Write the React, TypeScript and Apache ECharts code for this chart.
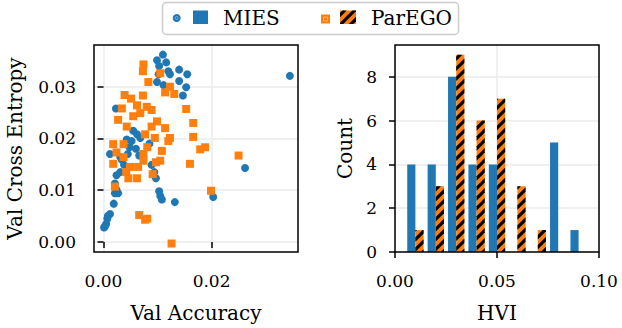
import React, { useEffect, useRef } from 'react';
import * as echarts from 'echarts';

// ---- data ----
const miesPoints: number[][] = [
  [0.0110, 0.0362], [0.0099, 0.0351], [0.0116, 0.0347], [0.0103, 0.0340], [0.0120, 0.0330],
  [0.0123, 0.0324], [0.0140, 0.0333], [0.0155, 0.0324], [0.0102, 0.0324], [0.0099, 0.0309],
  [0.0111, 0.0303], [0.0140, 0.0311], [0.0153, 0.0299], [0.0147, 0.0283], [0.0023, 0.0258],
  [0.0055, 0.0215], [0.0062, 0.0208], [0.0068, 0.0201], [0.0052, 0.0195], [0.0043, 0.0198],
  [0.0048, 0.0183], [0.0085, 0.0190], [0.0012, 0.0170], [0.0031, 0.0164], [0.0066, 0.0167],
  [0.0089, 0.0149], [0.0034, 0.0159], [0.0031, 0.0135], [0.0024, 0.0129], [0.0094, 0.0135],
  [0.0097, 0.0123], [0.0021, 0.0113], [0.0024, 0.0101], [0.0027, 0.0094], [0.0021, 0.0094],
  [0.0103, 0.0098], [0.0105, 0.0089], [0.0108, 0.0082], [0.0132, 0.0077], [0.0203, 0.0087],
  [0.0019, 0.0074], [0.0012, 0.0054], [0.0007, 0.0045], [0.0005, 0.0035], [0.0001, 0.0028],
  [0.0345, 0.0321], [0.0262, 0.0143], [0.0038, 0.0149], [0.0045, 0.0170], [0.0060, 0.0180],
  [0.0008, 0.0050], [0.0003, 0.0031],
];
const paregoPoints: number[][] = [
  [0.0074, 0.0343], [0.0073, 0.0330], [0.0105, 0.0326], [0.0083, 0.0309], [0.0123, 0.0300],
  [0.0114, 0.0289], [0.0131, 0.0286], [0.0039, 0.0284], [0.0073, 0.0283], [0.0062, 0.0264],
  [0.0080, 0.0261], [0.0068, 0.0249], [0.0089, 0.0255], [0.0034, 0.0258], [0.0153, 0.0257],
  [0.0027, 0.0236], [0.0043, 0.0223], [0.0099, 0.0233], [0.0089, 0.0223], [0.0114, 0.0220],
  [0.0166, 0.0230], [0.0077, 0.0208], [0.0123, 0.0201], [0.0166, 0.0203], [0.0018, 0.0189],
  [0.0037, 0.0189], [0.0108, 0.0176], [0.0120, 0.0195], [0.0179, 0.0179], [0.0188, 0.0183],
  [0.0074, 0.0170], [0.0024, 0.0173], [0.0160, 0.0151], [0.0105, 0.0157], [0.0250, 0.0167],
  [0.0037, 0.0164], [0.0018, 0.0151], [0.0049, 0.0145], [0.0064, 0.0145], [0.0062, 0.0123],
  [0.0046, 0.0123], [0.0074, 0.0157], [0.0097, 0.0154], [0.0091, 0.0131], [0.0021, 0.0107],
  [0.0199, 0.0099], [0.0066, 0.0052], [0.0077, 0.0043], [0.0081, 0.0045], [0.0126, -0.0003],
  [0.0055, 0.0243], [0.0051, 0.0277], [0.0081, 0.0183], [0.0095, 0.0201], [0.0042, 0.0135],
];
const hviBinEdges = [0.005, 0.015, 0.025, 0.035, 0.045, 0.055, 0.065, 0.075, 0.085, 0.095];
const miesHviCounts = [4, 4, 8, 4, 4, 0, 0, 5, 1];
const paregoHviCounts = [1, 3, 9, 6, 7, 3, 1, 0, 0];
const accuracyTicks = [0, 0.02];
const crossEntropyTicks = [0, 0.01, 0.02, 0.03];
const hviTicks = [0, 0.05, 0.1];
const countTicks = [0, 2, 4, 6, 8];

const BLUE = '#1f77b4';
const ORANGE = '#ff7f0e';
const FONT = 'DejaVu Serif';
const GRIDC = '#ebebeb';

type Pt = number[];
function clipHalf(poly: Pt[], f: (p: Pt) => number): Pt[] {
  const out: Pt[] = [];
  for (let i = 0; i < poly.length; i++) {
    const P = poly[i];
    const Q = poly[(i + 1) % poly.length];
    const fp = f(P);
    const fq = f(Q);
    if (fp >= 0) out.push(P);
    if ((fp >= 0) !== (fq >= 0)) {
      const t = fp / (fp - fq);
      out.push([P[0] + t * (Q[0] - P[0]), P[1] + t * (Q[1] - P[1])]);
    }
  }
  return out;
}
function hatchPolys(x0: number, y0: number, x1: number, y1: number): Pt[][] {
  const period = 10, phase = 5, w = 4.5;
  const res: Pt[][] = [];
  const uMin = x0 + y0, uMax = x1 + y1;
  for (let k = Math.floor((uMin - phase - w) / period); k * period + phase - w / 2 <= uMax; k++) {
    const c = k * period + phase;
    let poly: Pt[] = [[x0, y0], [x1, y0], [x1, y1], [x0, y1]];
    poly = clipHalf(poly, (p) => p[0] + p[1] - (c - w / 2));
    if (poly.length < 3) continue;
    poly = clipHalf(poly, (p) => c + w / 2 - (p[0] + p[1]));
    if (poly.length >= 3) res.push(poly);
  }
  return res;
}

function histData(counts: number[], offset: number) {
  const out: number[][] = [];
  for (let i = 0; i < counts.length; i++) {
    if (!counts[i]) continue;
    const w = hviBinEdges[i + 1] - hviBinEdges[i];
    const l = hviBinEdges[i] + w * (0.1 + offset);
    out.push([l, l + w * 0.4, counts[i]]);
  }
  return out;
}

function makeRender(fill: string, hatched: boolean) {
  return (params: any, api: any) => {
    const p0 = api.coord([api.value(0), api.value(2)]);
    const p1 = api.coord([api.value(1), 0]);
    const x0 = p0[0], y0 = p0[1], x1 = p1[0], y1 = p1[1];
    const children: any[] = [
      { type: 'rect', shape: { x: x0, y: y0, width: x1 - x0, height: y1 - y0 }, style: { fill } },
    ];
    if (hatched) {
      hatchPolys(x0, y0, x1, y1).forEach((pts) =>
        children.push({ type: 'polygon', shape: { points: pts }, style: { fill: '#000' } })
      );
    }
    return { type: 'group', children };
  };
}

const tickStyle = { show: true, inside: false, length: 6, lineStyle: { color: '#000', width: 1.5 } };
const labelBase = { fontFamily: FONT, fontSize: 17, color: '#000' };
const nameStyle = { fontFamily: FONT, fontSize: 20, color: '#000' };

export default function App() {
  const ref = useRef<HTMLDivElement>(null);
  useEffect(() => {
    if (!ref.current) return;
    const chart = echarts.init(ref.current, undefined, { renderer: 'svg' });
    const legendHatch = hatchPolys(340, 10.5, 356, 24).map((pts) => ({
      type: 'polygon', shape: { points: pts }, style: { fill: '#000' },
    }));
    chart.setOption({
      animation: false,
      backgroundColor: '#fff',
      grid: [
        { left: 94, top: 45, width: 204, height: 212, show: true, z: 10, backgroundColor: 'transparent', borderColor: '#000', borderWidth: 1.5 },
        { left: 395, top: 45, width: 204, height: 213, show: true, z: 10, backgroundColor: 'transparent', borderColor: '#000', borderWidth: 1.5 },
      ],
      xAxis: [
        {
          type: 'value', gridIndex: 0, min: -0.00176, max: 0.036,
          name: 'Val Accuracy', nameLocation: 'middle', nameGap: 51, nameTextStyle: nameStyle,
          axisLine: { show: false },
          axisTick: { ...tickStyle, customValues: accuracyTicks },
          axisLabel: { ...labelBase, margin: 20, customValues: accuracyTicks, formatter: (v: number) => v.toFixed(2) },
          splitLine: { show: true, lineStyle: { color: GRIDC, width: 1.5 } },
        },
        {
          type: 'value', gridIndex: 1, min: 0, max: 0.1,
          name: 'HVI', nameLocation: 'middle', nameGap: 51, nameTextStyle: nameStyle,
          axisLine: { show: false },
          axisTick: { ...tickStyle, customValues: hviTicks },
          axisLabel: { ...labelBase, margin: 20, customValues: hviTicks, formatter: (v: number) => v.toFixed(2) },
          splitLine: { show: true, lineStyle: { color: GRIDC, width: 1.5 } },
        },
      ],
      yAxis: [
        {
          type: 'value', gridIndex: 0, min: -0.00194, max: 0.03806,
          name: 'Val Cross Entropy', nameLocation: 'middle', nameGap: 69, nameTextStyle: nameStyle,
          axisLine: { show: false },
          axisTick: { ...tickStyle, customValues: crossEntropyTicks },
          axisLabel: { ...labelBase, margin: 18, customValues: crossEntropyTicks, formatter: (v: number) => v.toFixed(2) },
          splitLine: { show: true, lineStyle: { color: GRIDC, width: 1.5 } },
        },
        {
          type: 'value', gridIndex: 1, min: 0, max: 9.45,
          name: 'Count', nameLocation: 'middle', nameGap: 40, nameTextStyle: nameStyle,
          axisLine: { show: false },
          axisTick: { ...tickStyle, customValues: countTicks },
          axisLabel: { ...labelBase, margin: 18, customValues: countTicks, formatter: (v: number) => String(v) },
          splitLine: { show: true, lineStyle: { color: GRIDC, width: 1.5 } },
        },
      ],
      series: [
        {
          type: 'scatter', name: 'MIES', xAxisIndex: 0, yAxisIndex: 0,
          symbol: 'circle', symbolSize: 8, itemStyle: { color: BLUE, opacity: 1 },
          data: miesPoints, silent: true,
        },
        {
          type: 'scatter', name: 'ParEGO', xAxisIndex: 0, yAxisIndex: 0,
          symbol: 'rect', symbolSize: 8, itemStyle: { color: ORANGE, opacity: 1 },
          data: paregoPoints, silent: true,
        },
        {
          type: 'custom', name: 'MIES HVI', xAxisIndex: 1, yAxisIndex: 1,
          coordinateSystem: 'cartesian2d', encode: { x: [0, 1], y: 2 },
          renderItem: makeRender(BLUE, false), data: histData(miesHviCounts, 0), silent: true,
        },
        {
          type: 'custom', name: 'ParEGO HVI', xAxisIndex: 1, yAxisIndex: 1,
          coordinateSystem: 'cartesian2d', encode: { x: [0, 1], y: 2 },
          renderItem: makeRender(ORANGE, true), data: histData(paregoHviCounts, 0.4), silent: true,
        },
      ],
      graphic: [
        { type: 'rect', z: 20, shape: { x: 162.5, y: 2.5, width: 296, height: 32, r: 4 }, style: { fill: '#fff', stroke: '#cccccc', lineWidth: 1.5 } },
        { type: 'circle', z: 21, shape: { cx: 176.7, cy: 18, r: 4 }, style: { fill: BLUE } },
        { type: 'circle', z: 22, shape: { cx: 176.7, cy: 18, r: 1.5 }, style: { fill: 'none', stroke: 'rgba(255,255,255,0.5)', lineWidth: 0.8 } },
        { type: 'rect', z: 21, shape: { x: 193, y: 10.5, width: 15, height: 13.5 }, style: { fill: BLUE } },
        { type: 'text', z: 21, style: { text: 'MIES', x: 223, y: 18, verticalAlign: 'middle', fontFamily: FONT, fontSize: 20, fill: '#000' } },
        { type: 'rect', z: 21, shape: { x: 321, y: 14.5, width: 9, height: 9 }, style: { fill: ORANGE } },
        { type: 'rect', z: 22, shape: { x: 323.5, y: 17, width: 4, height: 4 }, style: { fill: 'none', stroke: 'rgba(255,255,255,0.5)', lineWidth: 0.8 } },
        { type: 'rect', z: 21, shape: { x: 340, y: 10.5, width: 16, height: 13.5 }, style: { fill: ORANGE } },
        { type: 'group', z: 22, children: legendHatch.map((e) => ({ ...e, z: 22 })) },
        { type: 'text', z: 21, style: { text: 'ParEGO', x: 371, y: 18, verticalAlign: 'middle', fontFamily: FONT, fontSize: 20, fill: '#000' } },
      ],
    });
    return () => chart.dispose();
  }, []);
  return <div ref={ref} style={{ position: 'fixed', left: 0, top: 0, width: 622, height: 328 }} />;
}
